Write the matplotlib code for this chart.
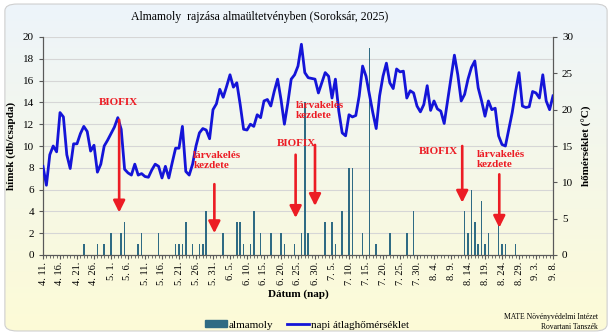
import numpy as np
import matplotlib
matplotlib.use('Agg')
import matplotlib.pyplot as plt
from matplotlib.patches import FancyBboxPatch, Patch
from matplotlib.lines import Line2D

plt.rcParams['font.family'] = ['Liberation Serif', 'DejaVu Serif']

# napok: 0 = 4. 11. ... 150 = 9. 8.
tick_labels = ['4. 11.', '4. 16.', '4. 21.', '4. 26.', '5. 1.', '5. 6.', '5. 11.',
               '5. 16.', '5. 21.', '5. 26.', '5. 31.', '6. 5.', '6. 10.', '6. 15.',
               '6. 20.', '6. 25.', '6. 30.', '7. 5.', '7. 10.', '7. 15.', '7. 20.',
               '7. 25.', '7. 30.', '8. 4.', '8. 9.', '8. 14.', '8. 19.', '8. 24.',
               '8. 29.', '9. 3.', '9. 8.']

# almamoly fogas (db/csapda), nap sorszama szerint
moth_days = [12, 16, 18, 20, 23, 24, 28, 29, 34, 39, 40, 41, 42, 44, 46, 47, 48,
             53, 57, 58, 59, 61, 62, 64, 67, 70, 71, 74, 76, 77, 78, 83, 85, 86,
             88, 90, 91, 94, 96, 98, 102, 107, 109, 124, 125, 126, 127, 128, 129,
             130, 131, 134, 135, 136, 139]
moth_counts = [1, 1, 1, 2, 2, 3, 1, 2, 2, 1, 1, 1, 3, 1, 1, 1, 4,
               2, 3, 3, 1, 1, 4, 2, 2, 2, 1, 1, 2, 14, 2, 3, 3, 1,
               4, 8, 8, 2, 19, 1, 2, 2, 4, 4, 2, 6, 3, 1, 5,
               1, 2, 6, 1, 1, 1]

# napi atlaghomerseklet (C)
temp = [12.2, 9.6, 13.8, 15.0, 14.2, 19.6, 19.0, 13.8, 11.9, 15.3,
        15.3, 16.7, 17.7, 17.0, 14.3, 15.1, 11.4, 12.5, 15.0, 15.8,
        16.7, 17.6, 18.9, 17.3, 11.8, 11.3, 11.0, 12.5, 11.0, 11.2,
        10.8, 10.7, 11.7, 12.5, 12.2, 10.6, 12.2, 10.6, 12.7, 14.7,
        14.7, 17.7, 11.5, 11.0, 12.5, 15.0, 16.8, 17.4, 17.2, 16.0,
        20.0, 20.8, 22.8, 21.7, 23.2, 24.8, 23.1, 23.7, 20.7, 17.3,
        17.2, 18.0, 17.7, 19.3, 18.9, 21.2, 21.4, 20.5, 22.5, 24.2,
        21.4, 18.0, 20.9, 24.2, 24.8, 26.0, 29.0, 25.1, 24.4, 24.3,
        24.2, 22.3, 23.7, 25.1, 24.6, 21.6, 24.2, 19.8, 16.8, 16.4,
        19.3, 19.0, 19.2, 21.9, 26.0, 24.6, 22.1, 19.6, 17.4, 21.9,
        24.6, 26.4, 23.7, 22.9, 25.6, 25.2, 25.3, 21.6, 22.6, 22.3,
        20.5, 19.7, 20.7, 23.3, 19.9, 21.2, 20.1, 19.8, 18.1, 21.2,
        24.2, 27.5, 24.8, 21.2, 22.1, 24.2, 25.8, 26.7, 23.0, 21.2,
        19.1, 21.2, 20.0, 20.2, 16.4, 15.2, 15.0, 17.3, 19.6, 22.5,
        25.1, 20.5, 20.3, 20.4, 22.5, 22.3, 21.6, 24.8, 21.2, 20.0,
        21.9]

bar_color = '#2f6b84'
line_color = '#1414d8'
red = '#ec1c24'
axis_gray = '#595959'

fig = plt.figure(figsize=(6.12, 3.35), dpi=100)

# hatter szinatmenet, lekerekitett kerettel
bg = fig.add_axes([0, 0, 1, 1], zorder=-10)
bg.set_axis_off()
t = np.linspace(0, 1, 256)[:, None, None]
c_top = np.array([237, 244, 251]) / 255
c_bot = np.array([253, 251, 214]) / 255
grad = c_top * (1 - t) + c_bot * t
im = bg.imshow(grad, aspect='auto', extent=[0, 1, 0, 1])
box = FancyBboxPatch((0.008, 0.012), 0.984, 0.976,
                     boxstyle='round,pad=0,rounding_size=0.02',
                     transform=bg.transAxes, fc='none', ec='#cfcfcf', lw=0.8)
bg.add_patch(box)
im.set_clip_path(box)
bg.set_xlim(0, 1)
bg.set_ylim(0, 1)

ax = fig.add_axes([43 / 612, 80 / 335, 510 / 612, 218 / 335])
ax.set_facecolor('none')
ax.bar(moth_days, moth_counts, width=0.45, color=bar_color, zorder=2)
ax.set_xlim(0, 150)
ax.set_ylim(0, 20)
ax.set_yticks(range(0, 21, 2))
ax.yaxis.grid(True, color='#d6d6d6', lw=0.8)
ax.set_axisbelow(True)
ax.set_xticks(range(0, 151, 5))
ax.set_xticklabels(tick_labels, rotation=90)
ax.set_xticks(range(151), minor=True)
ax.tick_params(axis='x', which='major', length=3, color=axis_gray, labelsize=7.5, pad=2)
ax.tick_params(axis='x', which='minor', length=2, color=axis_gray)
ax.tick_params(axis='y', length=3, color=axis_gray, labelsize=8)
ax.set_ylabel('hímek (db/csapda)', fontsize=8, fontweight='bold', labelpad=5)
ax.set_xlabel('Dátum (nap)', fontsize=8, fontweight='bold', labelpad=3)

ax2 = ax.twinx()
ax2.plot(range(len(temp)), temp, color=line_color, lw=2.0, zorder=3)
ax2.set_ylim(0, 30)
ax2.set_yticks(range(0, 31, 5))
ax2.tick_params(axis='y', length=3, color=axis_gray, labelsize=8)
ax2.set_ylabel('hőmérséklet (°C)', fontsize=8, fontweight='bold', labelpad=6)

for a in (ax, ax2):
    a.spines['top'].set_visible(False)
    for s in ('left', 'right', 'bottom'):
        a.spines[s].set_color(axis_gray)

# BIOFIX / larvakeles jelolesek (hímek tengely szerint)
labels_biofix = [(22.1, 14.0), (74.6, 10.2), (116.2, 9.5)]
labels_larva = [(44.2, 9.5), (74.3, 14.1), (127.6, 9.6)]
arrows = [(22.4, 12.4, 3.9), (50.4, 6.5, 2.0), (74.3, 9.2, 3.4),
          (80.0, 10.1, 4.5), (123.3, 10.0, 4.8), (134.2, 7.4, 2.5)]

for x, y in labels_biofix:
    ax2.text(x, y, 'BIOFIX', transform=ax.transData, ha='center', va='center',
             color=red, fontsize=8, fontweight='bold', zorder=5)
for x, y in labels_larva:
    ax2.text(x, y, 'lárvakelés\nkezdete', transform=ax.transData, ha='left', va='top',
             color=red, fontsize=8, fontweight='bold', zorder=5, linespacing=1.1)
for x, y0, y1 in arrows:
    ax2.annotate('', xy=(x, y1), xytext=(x, y0), xycoords=ax.transData,
                 textcoords=ax.transData,
                 arrowprops=dict(arrowstyle='-|>,head_length=0.7,head_width=0.35',
                                 color=red, lw=1.9, shrinkA=0, shrinkB=0), zorder=5)

fig.text(260 / 612, 1 - 17 / 335, 'Almamoly  rajzása almaültetvényben (Soroksár, 2025)',
         ha='center', va='center', fontsize=8.5)

handles = [Patch(color=bar_color), Line2D([], [], color=line_color, lw=2.0)]
fig.legend(handles, ['almamoly', 'napi átlaghőmérséklet'], loc='center',
           bbox_to_anchor=(307 / 612, 1 - 325 / 335), ncol=2, frameon=False,
           fontsize=8, handlelength=2.0, handleheight=0.5, handletextpad=0.2,
           columnspacing=1.2)

fig.text(598 / 612, 1 - 317 / 335, 'MATE Növényvédelmi Intézet', ha='right',
         va='center', fontsize=5.5)
fig.text(598 / 612, 1 - 327 / 335, 'Rovartani Tanszék', ha='right',
         va='center', fontsize=5.5)

plt.savefig('out.png', dpi=100)
